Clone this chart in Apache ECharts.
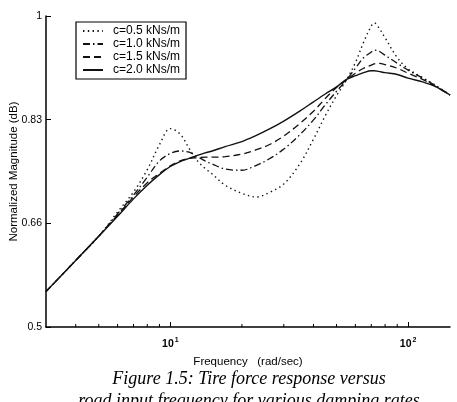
<!DOCTYPE html>
<html>
<head>
<meta charset="utf-8">
<script src="https://cdn.jsdelivr.net/npm/echarts@6/dist/echarts.min.js"></script>
<style>
  html, body { margin: 0; padding: 0; background: #fff; }
  #main { width: 457px; height: 402px; }
</style>
</head>
<body>
<div id="main"></div>
<script>
// frequency (rad/sec)
var freq = [3, 4, 5, 6, 7, 8, 9, 10, 11, 12, 13, 14, 15, 17, 20, 23, 26, 30, 35, 40, 45, 50, 55, 60, 65, 70, 72, 75, 80, 90, 100, 115, 130, 150];

// normalized magnitude per damping rate
var c05 = [0.557, 0.607, 0.646, 0.685, 0.717, 0.753, 0.793, 0.819, 0.810, 0.787, 0.767, 0.755, 0.746, 0.728, 0.715, 0.709, 0.716, 0.730, 0.762, 0.802, 0.841, 0.872, 0.897, 0.925, 0.958, 0.984, 0.989, 0.982, 0.965, 0.933, 0.915, 0.901, 0.889, 0.873];
var c10 = [0.557, 0.607, 0.646, 0.682, 0.712, 0.741, 0.767, 0.779, 0.783, 0.781, 0.774, 0.767, 0.762, 0.754, 0.752, 0.760, 0.770, 0.786, 0.809, 0.833, 0.858, 0.879, 0.897, 0.916, 0.933, 0.942, 0.945, 0.944, 0.937, 0.924, 0.913, 0.900, 0.888, 0.873];
var c15 = [0.557, 0.607, 0.646, 0.680, 0.709, 0.732, 0.747, 0.759, 0.767, 0.771, 0.772, 0.773, 0.773, 0.774, 0.778, 0.785, 0.793, 0.807, 0.827, 0.847, 0.868, 0.885, 0.897, 0.908, 0.916, 0.921, 0.923, 0.924, 0.922, 0.916, 0.908, 0.898, 0.887, 0.873];
var c20 = [0.557, 0.607, 0.646, 0.678, 0.706, 0.728, 0.745, 0.758, 0.766, 0.771, 0.776, 0.780, 0.783, 0.790, 0.798, 0.808, 0.818, 0.831, 0.847, 0.862, 0.875, 0.886, 0.898, 0.904, 0.909, 0.912, 0.912, 0.911, 0.909, 0.906, 0.900, 0.894, 0.887, 0.873];

var seriesNames = ["c=0.5 kNs/m", "c=1.0 kNs/m", "c=1.5 kNs/m", "c=2.0 kNs/m"];
var yTickLabels = ["0.5", "0.66", "0.83", "1"];
var xMinorTicks = [4, 5, 6, 7, 8, 9, 20, 30, 40, 50, 60, 70, 80, 90];

function pairs(ys) {
  return freq.map(function (f, i) { return [f, ys[i]]; });
}

var chart = echarts.init(document.getElementById("main"), null, { renderer: "canvas" });

function lineSeries(name, ys, type, width) {
  return {
    name: name,
    type: "line",
    data: pairs(ys),
    smooth: 0.35,
    symbol: "none",
    itemStyle: { color: "#111" },
    lineStyle: { color: "#111", width: width, type: type },
    z: 3
  };
}

var captionFont = "italic 18px 'Liberation Serif', 'Times New Roman', serif";

var option = {
  animation: false,
  backgroundColor: "#fff",
  textStyle: { fontFamily: "Liberation Sans, Arial, sans-serif", color: "#000" },
  grid: { left: 46, top: 16, width: 404, height: 311, containLabel: false, outerBoundsMode: "none" },
  legend: {
    orient: "vertical",
    left: 76,
    top: 22,
    padding: [3, 6, 3, 6],
    itemGap: 1,
    itemWidth: 20,
    itemHeight: 11,
    borderColor: "#000",
    borderWidth: 1.2,
    backgroundColor: "#fff",
    itemStyle: { opacity: 0 },
    textStyle: { fontSize: 12, lineHeight: 12, color: "#000", padding: [0, 0, 0, 5], fontFamily: "Liberation Sans, Arial, sans-serif" },
    data: seriesNames
  },
  xAxis: {
    type: "log",
    logBase: 10,
    min: 3,
    max: 150,
    name: "Frequency   (rad/sec)",
    nameLocation: "middle",
    nameGap: 29,
    nameTextStyle: { fontSize: 11.5, color: "#000" },
    axisLine: { lineStyle: { color: "#000", width: 1.5 } },
    axisTick: { inside: true, length: 5, lineStyle: { color: "#000" } },
    splitLine: { show: false },
    axisLabel: {
      showMinLabel: false,
      showMaxLabel: false,
      margin: 10,
      formatter: function (v) {
        var e = Math.round(Math.log10(v));
        return "{b|10}{s|" + e + "}";
      },
      rich: {
        b: { fontSize: 10.5, fontWeight: "bold", color: "#000" },
        s: { fontSize: 7, fontWeight: "bold", color: "#000", padding: [0, 0, 8, 1] }
      }
    }
  },
  yAxis: {
    type: "value",
    min: 0.5,
    max: 1,
    interval: 1 / 6,
    name: "Normalized Magnitude (dB)",
    nameLocation: "middle",
    nameGap: 26,
    nameMoveOverlap: false,
    nameTextStyle: { fontSize: 11.5, color: "#000" },
    axisLine: { show: true, lineStyle: { color: "#000", width: 1.5 } },
    axisTick: { show: true, inside: true, length: 5, lineStyle: { color: "#000" } },
    splitLine: { show: false },
    axisLabel: {
      margin: 4,
      fontSize: 10.5,
      color: "#000",
      formatter: function (v, i) { return yTickLabels[i]; }
    }
  },
  graphic: [
    {
      type: "text",
      x: 249,
      y: 370,
      style: {
        text: "Figure 1.5: Tire force response versus",
        font: captionFont,
        fill: "#000",
        align: "center",
        verticalAlign: "top"
      }
    },
    {
      type: "text",
      x: 249,
      y: 392,
      style: {
        text: "road input frequency for various damping rates",
        font: captionFont,
        fill: "#000",
        align: "center",
        verticalAlign: "top"
      }
    }
  ],
  series: [
    lineSeries(seriesNames[0], c05, [1.4, 3.4], 1.4),
    lineSeries(seriesNames[1], c10, [7, 3, 1.5, 3], 1.3),
    lineSeries(seriesNames[2], c15, [7, 4], 1.3),
    lineSeries(seriesNames[3], c20, "solid", 1.4),
    {
      type: "custom",
      silent: true,
      data: xMinorTicks.map(function (f) { return [f, 0.5]; }),
      renderItem: function (params, api) {
        var p = api.coord([api.value(0), api.value(1)]);
        return {
          type: "line",
          shape: { x1: p[0], y1: p[1], x2: p[0], y2: p[1] - 3 },
          style: { stroke: "#000", lineWidth: 1 }
        };
      },
      z: 2
    }
  ]
};
chart.setOption(option);
</script>
</body>
</html>
